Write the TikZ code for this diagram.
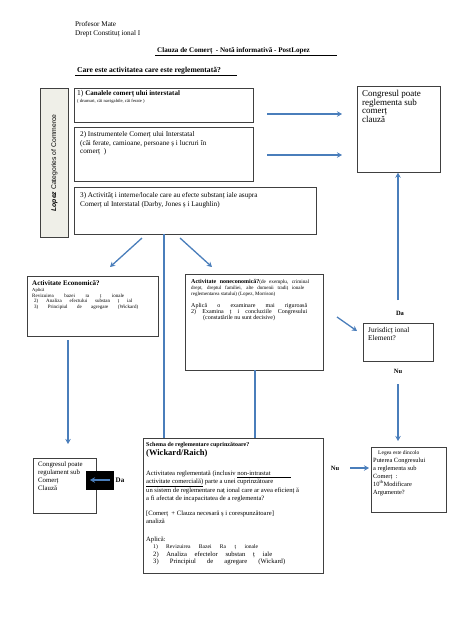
\documentclass[tikz,border=0pt]{standalone}
\usepackage{fontspec}
\setmainfont{Liberation Serif}
\newfontfamily\lsans{Liberation Sans}
\usetikzlibrary{arrows.meta}
\definecolor{arrowblue}{HTML}{4A7EBB}
\definecolor{sidefill}{HTML}{EFEFE8}
\newcommand{\fs}[2]{\fontsize{#1}{#2}\selectfont}
\newcommand{\sline}[2]{\makebox[#1][s]{#2}}
\begin{document}
\begin{tikzpicture}[x=1pt,y=-1pt,
  box/.style={draw=black!75, line width=0.7pt, rectangle, inner sep=0pt, anchor=north west},
  txt/.style={anchor=north west, align=left, inner sep=0pt},
  arr/.style={draw=arrowblue, line width=1.3pt, -{Stealth[length=5pt,width=5.5pt]}},
  ln/.style={draw=arrowblue, line width=1.3pt},
  lbl/.style={inner sep=0pt, font=\bfseries\fs{6.5}{7}}]
\useasboundingbox (0,0) rectangle (474,632);
\fill[white] (0,0) rectangle (474,632);

% header
\node[txt, font=\fs{7.2}{9}] (hdr) at (75,21.5) {Profesor Mate\\Drept Constituț ional I};
\node[txt, font=\bfseries\fs{7.1}{8}] (ttl) at (157,47.5) {Clauza de Comerț \ - Notă informativă - PostLopez};
\draw[line width=0.6pt] (155,55) -- (337,55);
\node[txt, font=\bfseries\fs{7.6}{8}] (q) at (77,67.3) {Care este activitatea care este reglementată?};
\draw[line width=0.6pt] (75,75.7) -- (237,75.7);

% sidebar
\node[box, fill=sidefill, minimum width=28pt, minimum height=149pt] (side) at (40,88) {};
\node[rotate=90, font=\lsans\fs{6.8}{7}] (sidetxt) at (side.center) {\textbf{\textit{Lopez}} Categories of Commerce};

% box 1
\node[box, minimum width=179pt, minimum height=34pt] (b1) at (74,88) {};
\node[txt, font=\fs{7}{7}] (b1t) at (77,90.5) {\fs{7.5}{7}1) \fs{7}{7}\textbf{Canalele comerț ului interstatal}\\
\fs{4.6}{7}( drumuri, căi navigabile, căi ferate )};

% box 2
\node[box, minimum width=179pt, minimum height=54pt] (b2) at (74,127) {};
\node[txt, font=\fs{7.2}{8.5}] (b2t) at (80,131.5) {2) Instrumentele Comerț ului Interstatal\\(căi ferate, camioane, persoane ș i lucruri în\\comerț \ )};

% box 3
\node[box, minimum width=242pt, minimum height=47pt] (b3) at (74,187) {};
\node[txt, font=\fs{7.2}{8.3}] (b3t) at (80,192.5) {3) Activităț i interne/locale care au efecte substanț iale asupra\\Comerț ul Interstatal (Darby, Jones ș i Laughlin)};

% right box
\node[box, minimum width=83pt, minimum height=86pt] (rb) at (357,86) {};
\node[txt, font=\fs{9}{7.8}] (rbt) at (362,90.2) {Congresul poate\\reglementa sub\\comerț\\clauză};

% economic box
\node[box, minimum width=131pt, minimum height=60pt] (eco) at (27,276) {};
\node[txt, font=\fs{5}{5.7}] (ecot) at (32,280.5) {\fs{7}{5.7}\textbf{Activitate Economică?}\\
\fs{4.6}{5.7}Aplică\\
\sline{92pt}{Revizuirea bazei ra ț ionale}\\
\hspace*{2pt}\sline{98pt}{2) Analiza efectului substan ț ial}\\
\hspace*{2pt}\sline{104pt}{3) Principiul de agregare (Wickard)}};

% noneconomic box
\node[box, minimum width=138pt, minimum height=96pt] (non) at (185,274) {};
\node[txt, font=\fs{5}{6}] (nont) at (191,279) {\sline{118pt}{\fs{6}{6}\textbf{Activitate noneconomică?}\fs{5.2}{6}(de exemplu, criminal}\\
\sline{113pt}{drept, dreptul familiei, alte domenii tradiț ionale}\\
reglementarea statului) (Lopez, Morrison)\\[6pt]
\fs{6}{6}\sline{116pt}{Aplică o examinare mai riguroasă}\\
\fs{6}{6}\sline{116pt}{2) Examina ț i concluziile Congresului}\\
\fs{6}{6}\hspace*{12pt}(constatările nu sunt decisive)};

% jurisdictional box
\node[box, minimum width=70pt, minimum height=38pt] (jur) at (363,323) {};
\node[txt, font=\fs{7.3}{7.5}] (jurt) at (368,327.4) {Jurisdicț ional\\Element?};
\node[lbl] (da1) at (400,313) {Da};
\node[lbl] (nu1) at (398,371) {Nu};

% congress box 2
\node[box, minimum width=63pt, minimum height=55pt] (cg) at (33,458) {};
\node[txt, font=\fs{6.8}{8}] (cgt) at (38,461.6) {Congresul poate\\regulament sub\\Comerț\\Clauză};

% black box
\node[box, draw=black, fill=black, minimum width=27pt, minimum height=18pt] (blk) at (86,471) {};
\node[lbl, font=\bfseries\fs{7}{7}] (da2) at (120,480) {Da};

% schema box
\node[box, minimum width=180pt, minimum height=135pt] (sch) at (143,438) {};
\node[txt, font=\fs{6.6}{8}] (scht) at (146,442) {\fs{6}{8}\textbf{Schema de reglementare cuprinzătoare?}\\[1pt]
\fs{8.5}{8}\textbf{(Wickard/Raich)}\\[12pt]
Activitatea reglementată (inclusiv \underline{non-intrastat\hspace{20pt}}\\
\underline{activitate comercială)} parte a unei cuprinzătoare\\
un sistem de reglementare naț ional care ar avea eficienț ă\\
a fi afectat de incapacitatea de a reglementa?\\[7pt]
[Comerț \ + Clauza necesară ș i corespunzătoare]\\
analiză\\[10pt]
Aplică:\\[-0.5pt]
\fs{5.6}{8}\hspace*{7pt}\sline{105pt}{1) Revizuirea Bazei Ra ț ionale}\\[-0.5pt]
\hspace*{7pt}\sline{119pt}{2) Analiza efectelor substan ț iale}\\[-0.5pt]
\hspace*{7pt}\sline{132pt}{3) Principiul de agregare (Wickard)}};
\node[lbl] (nu2) at (335,468) {Nu};

% legea box
\node[box, minimum width=75pt, minimum height=65pt] (leg) at (371,447) {};
\node[txt, font=\fs{6.4}{8}] (legt) at (373,450) {\fs{5.5}{8}\hspace*{5pt}Legea este dincolo\\
Puterea Congresului\\
a reglementa sub\\
Comerț \ :\\
10\textsuperscript{th}Modificare\\
Argumente?};

% coordinates for connectors
\coordinate (a1s) at (267,114);
\coordinate (a1e) at (342,114);
\coordinate (a2s) at (267,155);
\coordinate (a2e) at (342,155);
\coordinate (upS) at (398,300);
\coordinate (b3L) at (142,238);
\coordinate (lftE) at (110,267);
\coordinate (b3M) at (164,234);
\coordinate (schM) at (164,438);
\coordinate (b3R) at (180,238);
\coordinate (rgtE) at (212,267);
\coordinate (ecoS) at (68,340);
\coordinate (ecoE) at (68,444);
\coordinate (nonS) at (255,370);
\coordinate (schN) at (255,438);
\coordinate (njS) at (337,317);
\coordinate (njE) at (357,331);
\coordinate (jdS) at (398,384);
\coordinate (jdE) at (398,441);
\coordinate (nuS) at (350,468);
\coordinate (nuE) at (369,468);
\coordinate (bkS) at (110,480);
\coordinate (bkE) at (90,480);

\draw[arr] (a1s) -- (a1e);
\draw[arr] (a2s) -- (a2e);
\draw[arr] (upS) -- (rb.south -| upS);
\draw[arr] (b3L) -- (lftE);
\draw[ln] (b3M) -- (schM);
\draw[arr] (b3R) -- (rgtE);
\draw[arr] (ecoS) -- (ecoE);
\draw[ln] (nonS) -- (schN);
\draw[arr] (njS) -- (njE);
\draw[arr] (jdS) -- (jdE);
\draw[arr] (nuS) -- (nuE);
\draw[arr] (bkS) -- (bkE);
\end{tikzpicture}
\end{document}
